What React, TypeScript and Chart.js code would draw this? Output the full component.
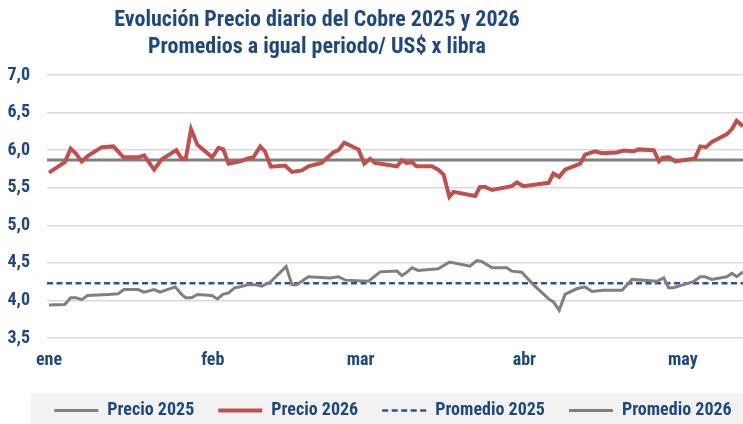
import React, { useEffect, useRef } from 'react';
import { Chart, registerables } from 'chart.js';

Chart.register(...registerables);

// ---- Data (x = day of year 2026, Jan 1 = 1) ----
const monthLabels = ['ene', 'feb', 'mar', 'abr', 'may'];
const monthTickDays = [2, 33, 61, 92, 122];
const xRange = [1.62, 133.4];

const days2026 = [2.0, 5.0, 6.1, 7.1, 8.2, 9.3, 12.0, 14.2, 16.1, 18.9, 20.0, 21.9, 23.3, 26.1, 27.1, 27.9, 28.9, 30.1, 32.9, 34.1, 35.0, 36.0, 38.2, 39.7, 40.7, 42.0, 42.9, 44.0, 46.7, 48.0, 49.9, 51.1, 53.6, 55.8, 56.8, 57.9, 60.6, 61.7, 62.8, 63.7, 67.9, 68.8, 69.7, 70.7, 71.6, 74.5, 75.7, 76.7, 77.8, 78.6, 82.7, 83.6, 84.6, 85.9, 89.6, 90.6, 91.8, 96.6, 97.5, 98.6, 99.7, 102.6, 103.5, 105.4, 106.7, 109.5, 110.8, 112.7, 113.6, 116.5, 117.5, 118.2, 119.4, 120.6, 124.3, 125.3, 126.4, 127.5, 130.3, 131.3, 132.2, 133.4];
const precio2026 = [5.70, 5.84, 6.02, 5.955, 5.85, 5.92, 6.04, 6.05, 5.905, 5.905, 5.93, 5.74, 5.875, 6.0, 5.89, 5.89, 6.28, 6.07, 5.905, 6.03, 6.01, 5.82, 5.85, 5.89, 5.905, 6.05, 5.985, 5.78, 5.795, 5.71, 5.73, 5.785, 5.83, 5.97, 6.0, 6.10, 6.01, 5.82, 5.885, 5.83, 5.785, 5.865, 5.83, 5.84, 5.785, 5.785, 5.74, 5.675, 5.38, 5.445, 5.39, 5.51, 5.51, 5.47, 5.52, 5.57, 5.52, 5.565, 5.69, 5.645, 5.74, 5.82, 5.94, 5.985, 5.96, 5.97, 5.995, 5.985, 6.01, 6.0, 5.85, 5.90, 5.905, 5.85, 5.89, 6.05, 6.04, 6.11, 6.21, 6.28, 6.39, 6.32];

const days2025 = [2.0, 5.0, 6.1, 7.1, 8.2, 9.3, 13.2, 15.1, 16.2, 18.9, 20.0, 21.9, 23.0, 25.9, 27.1, 27.9, 29.0, 30.1, 32.8, 33.9, 34.9, 36.0, 37.2, 38.2, 39.7, 41.0, 42.3, 43.9, 46.9, 48.0, 48.9, 51.1, 55.2, 56.8, 58.1, 62.5, 64.7, 67.9, 68.8, 69.7, 70.7, 71.9, 75.7, 77.8, 81.7, 83.0, 83.9, 85.9, 88.7, 89.6, 91.5, 93.7, 96.6, 97.5, 98.6, 99.7, 101.9, 103.5, 104.8, 107.0, 110.5, 112.4, 117.1, 118.4, 119.3, 120.2, 124.0, 125.3, 126.2, 127.5, 130.3, 131.3, 132.2, 133.4];
const precio2025 = [3.94, 3.945, 4.035, 4.035, 4.01, 4.065, 4.08, 4.09, 4.145, 4.145, 4.11, 4.145, 4.11, 4.18, 4.08, 4.035, 4.035, 4.08, 4.065, 4.02, 4.08, 4.10, 4.17, 4.18, 4.21, 4.21, 4.19, 4.245, 4.45, 4.21, 4.21, 4.315, 4.30, 4.315, 4.27, 4.255, 4.38, 4.39, 4.33, 4.37, 4.435, 4.40, 4.42, 4.51, 4.455, 4.53, 4.52, 4.435, 4.435, 4.39, 4.375, 4.21, 4.02, 3.98, 3.87, 4.08, 4.155, 4.18, 4.12, 4.135, 4.135, 4.28, 4.255, 4.30, 4.17, 4.17, 4.25, 4.315, 4.315, 4.28, 4.315, 4.36, 4.315, 4.38];

const promedio2025 = 4.23;
const promedio2026 = 5.87;

const seriesNames = ['Precio 2025', 'Precio 2026', 'Promedio 2025', 'Promedio 2026'];
const titleLines = ['Evolución Precio diario del Cobre 2025 y 2026', 'Promedios a igual periodo/ US$ x libra'];

// ---- Styles ----
const FONT = "'Liberation Sans Narrow', 'Roboto Condensed', 'DejaVu Sans Condensed', Roboto, sans-serif";
const TEXT_BLUE = '#1F497D';

const legendBand = {
  id: 'legendBand',
  afterLayout(chart: any) {
    const lg = chart.legend;
    if (!lg) return;
    lg.left += 18;
    lg.right += 18;
    lg.top += 5.5;
    lg.bottom += 5.5;
  },
  beforeDraw(chart: any) {
    const { ctx, width, height } = chart;
    ctx.save();
    ctx.fillStyle = '#F2F2F2';
    ctx.fillRect(31, 393, width - 31, height - 393);
    ctx.restore();
  },
};

export default function App() {
  const canvasRef = useRef<HTMLCanvasElement | null>(null);

  useEffect(() => {
    document.body.style.margin = '0';
    const canvas = canvasRef.current;
    if (!canvas) return;
    const toPts = (xs: number[], ys: number[]) => xs.map((x, i) => ({ x, y: ys[i] }));
    const flat = (v: number) => [{ x: xRange[0], y: v }, { x: xRange[1], y: v }];

    const chart = new Chart(canvas, {
      type: 'line',
      data: {
        datasets: [
          {
            label: seriesNames[0],
            data: toPts(days2025, precio2025),
            borderColor: '#808080',
            backgroundColor: '#808080',
            borderWidth: 3,
            pointRadius: 0,
            order: 1,
          },
          {
            label: seriesNames[1],
            data: toPts(days2026, precio2026),
            borderColor: '#C0504D',
            backgroundColor: '#C0504D',
            borderWidth: 4,
            pointRadius: 0,
            order: 0,
          },
          {
            label: seriesNames[2],
            data: flat(promedio2025),
            borderColor: '#2A5594',
            backgroundColor: '#2A5594',
            borderWidth: 2.5,
            borderDash: [6, 3.5],
            pointRadius: 0,
            order: 2,
          },
          {
            label: seriesNames[3],
            data: flat(promedio2026),
            borderColor: '#7F7F7F',
            backgroundColor: '#7F7F7F',
            borderWidth: 3,
            pointRadius: 0,
            order: 3,
          },
        ],
      },
      options: {
        responsive: false,
        animation: false,
        devicePixelRatio: 1,
        layout: { padding: { top: 75, left: 7, right: 0, bottom: 0 } },
        plugins: {
          title: { display: false },
          tooltip: { enabled: false },
          legend: {
            position: 'bottom',
            labels: {
              usePointStyle: true,
              pointStyle: 'line',
              pointStyleWidth: 44,
              padding: 24,
              color: TEXT_BLUE,
              font: { family: FONT, size: 18, weight: 'bold' },
              sort: (a: any, b: any) => a.datasetIndex - b.datasetIndex,
              generateLabels: (c: any) => {
                const items = Chart.defaults.plugins.legend.labels.generateLabels(c);
                items.forEach((it: any) => {
                  const ds = c.data.datasets[it.datasetIndex];
                  it.lineDash = ds.borderDash || [];
                  it.lineWidth = ds.borderWidth;
                  it.strokeStyle = ds.borderColor;
                  it.fillStyle = ds.borderColor;
                  it.lineCap = 'butt';
                });
                return items;
              },
            },
          },
        },
        scales: {
          x: {
            type: 'linear',
            min: xRange[0],
            max: xRange[1],
            afterBuildTicks: (scale: any) => {
              scale.ticks = monthTickDays.map((v) => ({ value: v }));
            },
            afterFit: (scale: any) => {
              scale.height = 34;
            },
            ticks: {
              autoSkip: false,
              maxRotation: 0,
              padding: 12,
              color: TEXT_BLUE,
              font: { family: FONT, size: 18, weight: 'bold' },
              callback: (_v: any, i: number) => monthLabels[i],
            },
            grid: { display: false, drawTicks: false },
            border: { display: false },
          },
          y: {
            min: 3.5,
            max: 7.0,
            afterFit: (scale: any) => {
              scale.width = 40;
            },
            ticks: {
              stepSize: 0.5,
              padding: 17,
              color: TEXT_BLUE,
              font: { family: FONT, size: 18, weight: 'bold' },
              callback: (v: any) => Number(v).toFixed(1).replace('.', ','),
            },
            grid: { color: '#D9D9D9', lineWidth: 1.5, drawTicks: false },
            border: { display: false },
          },
        },
      },
      plugins: [legendBand],
    } as any);

    return () => chart.destroy();
  }, []);

  return (
    <div style={{ position: 'relative', width: 743, height: 424, overflow: 'hidden', background: '#fff' }}>
      <canvas ref={canvasRef} width={743} height={424} style={{ display: 'block' }} />
      <div
        style={{
          position: 'absolute',
          left: 0,
          top: 5,
          width: 634,
          textAlign: 'center',
          fontFamily: FONT,
          fontWeight: 'bold',
          fontSize: 22,
          lineHeight: '27px',
          color: TEXT_BLUE,
        }}
      >
        <div>{titleLines[0]}</div>
        <div>{titleLines[1]}</div>
      </div>
    </div>
  );
}
